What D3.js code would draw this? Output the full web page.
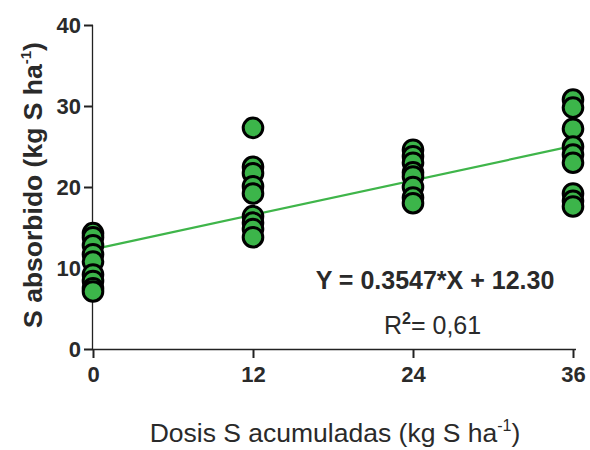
<!DOCTYPE html>
<html>
<head>
<meta charset="utf-8">
<script src="https://cdn.jsdelivr.net/npm/d3@7"></script>
<style>
  html, body { margin: 0; padding: 0; background: #fff; }
  svg { display: block; font-family: "Liberation Sans", Arial, sans-serif; }
</style>
</head>
<body>
<svg id="chart" width="590" height="450"></svg>
<script>
// ---- data ----
const doses = [0, 12, 24, 36];
const values0  = [14.3, 13.8, 12.8, 11.7, 10.8, 9.2, 8.4, 7.5, 7.1];
const values12 = [27.3, 22.5, 21.7, 20.1, 19.2, 16.4, 15.6, 14.8, 13.8];
const values24 = [24.6, 23.8, 23.0, 21.8, 21.3, 20.0, 18.7, 18.0];
const values36 = [30.8, 29.8, 27.2, 25.0, 24.0, 23.0, 19.2, 18.3, 17.6];
const xTicks = [0, 12, 24, 36];
const yTicks = [0, 10, 20, 30, 40];
const slope = 0.3547;
const intercept = 12.30;
const equationText = "Y = 0.3547*X + 12.30";
const r2Text = "= 0,61";

const seriesValues = [values0, values12, values24, values36];
const points = [];
doses.forEach((d, i) => seriesValues[i].forEach(v => points.push({x: d, y: v})));

const svg = d3.select("#chart");
const x = d3.scaleLinear().domain([0, 36]).range([93, 573]);
const y = d3.scaleLinear().domain([0, 40]).range([349, 25]);

const axisColor = "#222";
const textColor = "#2a2a2a";

// Y axis
const gy = svg.append("g").attr("transform", `translate(${x(0)},0)`)
  .call(d3.axisLeft(y).tickValues(yTicks).tickSize(9).tickPadding(3).tickFormat(d3.format("d")));
gy.select(".domain").attr("stroke", axisColor).attr("stroke-width", 1.3).attr("d", `M-0.5,${y(40)}V${y(0)}`);
gy.selectAll(".tick line").attr("stroke", axisColor).attr("stroke-width", 2);
gy.selectAll(".tick text").attr("fill", textColor).attr("font-size", 22).attr("font-weight", "bold")
  .attr("font-family", "Liberation Sans, Arial, sans-serif");

// X axis
const gx = svg.append("g").attr("transform", `translate(0,${y(0)})`)
  .call(d3.axisBottom(x).tickValues(xTicks).tickSize(9).tickPadding(8).tickFormat(d3.format("d")));
gx.select(".domain").attr("stroke", axisColor).attr("stroke-width", 1.3).attr("d", `M${x(0)},0.5H${x(36)+3}`);
gx.selectAll(".tick line").attr("stroke", axisColor).attr("stroke-width", 2);
gx.selectAll(".tick text").attr("fill", textColor).attr("font-size", 22).attr("font-weight", "bold")
  .attr("font-family", "Liberation Sans, Arial, sans-serif");

// regression line
svg.append("line")
  .attr("x1", x(0)).attr("y1", y(intercept))
  .attr("x2", x(36)).attr("y2", y(intercept + slope * 36))
  .attr("stroke", "#3fb54a").attr("stroke-width", 2.2);

// points
svg.append("g").selectAll("circle").data(points).join("circle")
  .attr("cx", d => x(d.x)).attr("cy", d => y(d.y)).attr("r", 9.8)
  .attr("fill", "#3cb54a").attr("stroke", "#000").attr("stroke-width", 3);

// equation
svg.append("text").attr("x", 435).attr("y", 289).attr("text-anchor", "middle")
  .attr("font-size", 25).attr("font-weight", "bold").attr("fill", textColor)
  .text(equationText);
const r2 = svg.append("text").attr("x", 384).attr("y", 334)
  .attr("font-size", 25).attr("fill", textColor);
r2.append("tspan").text("R");
r2.append("tspan").attr("dy", -10).attr("font-size", 16).attr("font-weight", "bold").text("2");
r2.append("tspan").attr("dy", 10).text(r2Text);

// x label
const xl = svg.append("text").attr("x", 335).attr("y", 442).attr("text-anchor", "middle")
  .attr("font-size", 26.5).attr("fill", textColor);
xl.append("tspan").text("Dosis S acumuladas (kg S ha");
xl.append("tspan").attr("dy", -11).attr("font-size", 16).text("-1");
xl.append("tspan").attr("dy", 11).text(")");

// y label
const yl = svg.append("text").attr("transform", "translate(42,185) rotate(-90)").attr("text-anchor", "middle")
  .attr("font-size", 26.5).attr("font-weight", "bold").attr("fill", textColor);
yl.append("tspan").text("S absorbido (kg S ha");
yl.append("tspan").attr("dy", -11).attr("font-size", 15).text("-1");
yl.append("tspan").attr("dy", 11).text(")");
</script>
</body>
</html>
